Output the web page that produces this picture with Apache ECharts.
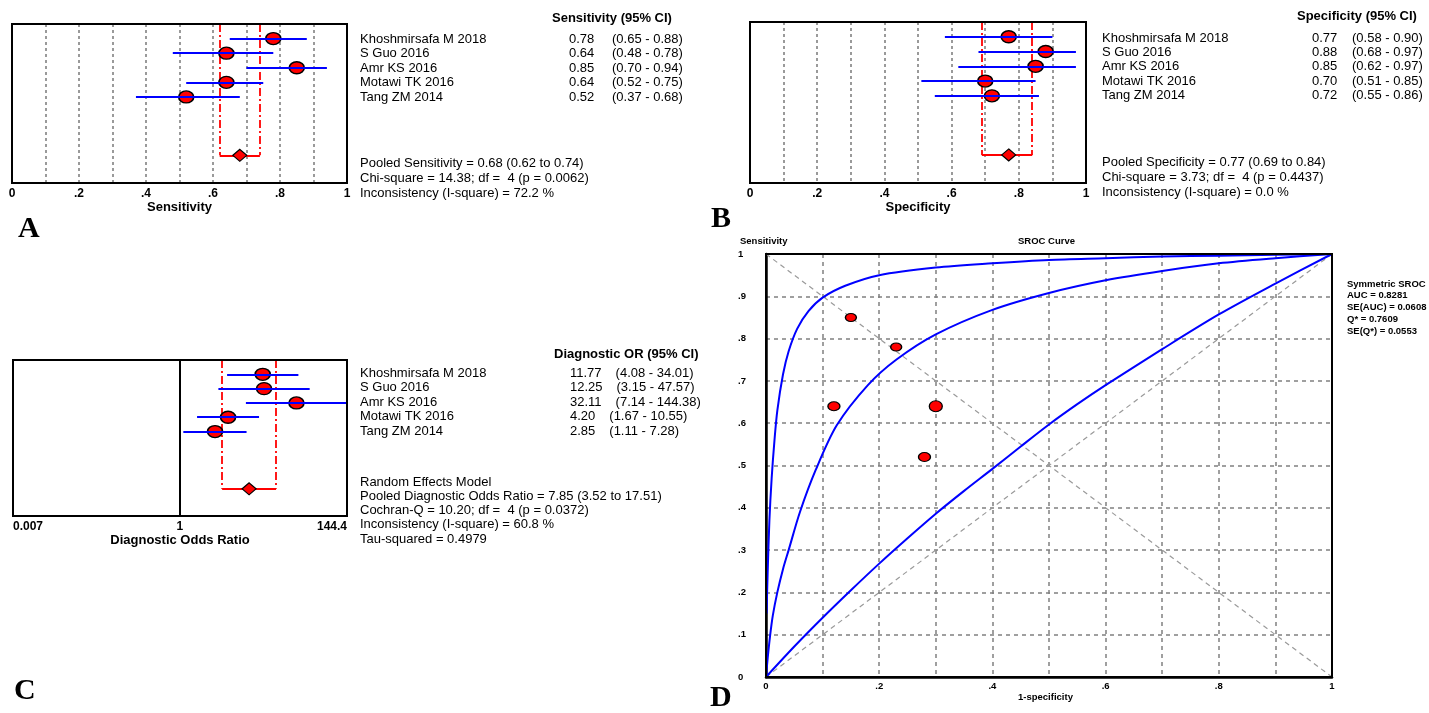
<!DOCTYPE html>
<html><head><meta charset="utf-8">
<script src="https://cdn.jsdelivr.net/npm/echarts@6/dist/echarts.min.js"></script>
<style>html,body{margin:0;padding:0;background:#fff}#c{width:1429px;height:713px}</style>
</head><body><div id="c"></div>
<script>
// ---------------- DATA ----------------
const studies = ['Khoshmirsafa M 2018', 'S Guo 2016', 'Amr KS 2016', 'Motawi TK 2016', 'Tang ZM 2014'];

const sens   = [0.78, 0.64, 0.85, 0.64, 0.52];
const sensLo = [0.65, 0.48, 0.70, 0.52, 0.37];
const sensHi = [0.88, 0.78, 0.94, 0.75, 0.68];
const pooledSens = [0.68, 0.62, 0.74]; // estimate, lo, hi

const spec   = [0.77, 0.88, 0.85, 0.70, 0.72];
const specLo = [0.58, 0.68, 0.62, 0.51, 0.55];
const specHi = [0.90, 0.97, 0.97, 0.85, 0.86];
const pooledSpec = [0.77, 0.69, 0.84];

const dor   = [11.77, 12.25, 32.11, 4.20, 2.85];
const dorLo = [4.08, 3.15, 7.14, 1.67, 1.11];
const dorHi = [34.01, 47.57, 144.38, 10.55, 7.28];
const pooledDor = [7.85, 3.52, 17.51];

const sensSummary = ['Pooled Sensitivity = 0.68 (0.62 to 0.74)', 'Chi-square = 14.38; df =  4 (p = 0.0062)', 'Inconsistency (I-square) = 72.2 %'];
const specSummary = ['Pooled Specificity = 0.77 (0.69 to 0.84)', 'Chi-square = 3.73; df =  4 (p = 0.4437)', 'Inconsistency (I-square) = 0.0 %'];
const dorSummary = ['Random Effects Model', 'Pooled Diagnostic Odds Ratio = 7.85 (3.52 to 17.51)', 'Cochran-Q = 10.20; df =  4 (p = 0.0372)', 'Inconsistency (I-square) = 60.8 %', 'Tau-squared = 0.4979'];
const srocLegend = ['Symmetric SROC', 'AUC = 0.8281', 'SE(AUC) = 0.0608', 'Q* = 0.7609', 'SE(Q*) = 0.0553'];

// SROC curves: [1-specificity, sensitivity]
const srocUpper = [[0.001,0.15],[0.003,0.25],[0.006,0.37],[0.01,0.47],[0.015,0.56],[0.02,0.63],[0.03,0.715],[0.04,0.77],[0.055,0.823],[0.075,0.865],[0.1,0.897],[0.14,0.925],[0.2,0.95],[0.3,0.968],[0.4,0.978],[0.5,0.986],[0.6,0.99],[0.7,0.994],[0.8,0.996],[0.9,0.998],[1,1]];
const srocMiddle = [[0,0],[0.003,0.045],[0.007,0.095],[0.012,0.145],[0.02,0.2],[0.03,0.255],[0.04,0.3],[0.06,0.39],[0.088,0.49],[0.125,0.595],[0.18,0.69],[0.23,0.75],[0.3,0.81],[0.4,0.868],[0.5,0.908],[0.6,0.938],[0.7,0.96],[0.8,0.978],[0.9,0.99],[1,1]];
const srocLower = [[0,0],[0.05,0.072],[0.1,0.14],[0.15,0.205],[0.2,0.268],[0.25,0.328],[0.3,0.386],[0.35,0.44],[0.4,0.492],[0.45,0.545],[0.5,0.597],[0.55,0.645],[0.6,0.69],[0.7,0.775],[0.8,0.857],[0.9,0.93],[1,1]];

// tick labels
const unitTicks = [0, 0.2, 0.4, 0.6, 0.8, 1];
const unitTickLabels = ['0', '.2', '.4', '.6', '.8', '1'];
const srocYTicks = [0, 0.1, 0.2, 0.3, 0.4, 0.5, 0.6, 0.7, 0.8, 0.9, 1];
const srocYTickLabels = ['0', '.1', '.2', '.3', '.4', '.5', '.6', '.7', '.8', '.9', '1'];
const dorTicks = [0.007, 1, 144.4];
const dorTickLabels = ['0.007', '1', '144.4'];

// ---------------- STYLE / LAYOUT ----------------
const FONT = '"Liberation Sans", Arial, sans-serif';
const SERIF = '"Liberation Serif", "Times New Roman", serif';
const RED = '#ff0000', BLUE = '#0000ff';
const srocMarkerSize = [[11, 8], [12, 9], [11, 8], [13, 11], [12, 9]];
const POOLED_ROW = 9;

function nearestLabel(v, ticks, labels, log) {
  let best = 0, bd = Infinity;
  ticks.forEach((t, i) => {
    const d = log ? Math.abs(Math.log(t) - Math.log(v)) : Math.abs(t - v);
    if (d < bd) { bd = d; best = i; }
  });
  return labels[best];
}

const forestGrids = [
  { left: 12, top: 24, width: 335, height: 159 },
  { left: 750, top: 22, width: 336, height: 161 },
  { left: 13, top: 360, width: 334, height: 156 }
];
const gridD = { left: 766, top: 254, width: 566, height: 423 };
const allGrids = forestGrids.concat([gridD]);

const grids = allGrids.map(g => Object.assign({ show: true, borderColor: '#000', borderWidth: 0, backgroundColor: '#fff' }, g));

const dashedGray = { show: true, lineStyle: { color: '#7a7a7a', width: 1.5, type: [3, 3] } };

function unitXAxis(gi, name, gap) {
  return {
    type: 'value', gridIndex: gi, min: 0, max: 1, interval: 0.1,
    axisLine: { show: false }, axisTick: { show: false },
    splitLine: dashedGray,
    axisLabel: { customValues: unitTicks, margin: 5, color: '#000', fontWeight: 'bold', fontSize: 12, fontFamily: FONT,
      formatter: v => nearestLabel(v, unitTicks, unitTickLabels, false) },
    name: name, nameLocation: 'middle', nameGap: gap,
    nameTextStyle: { color: '#000', fontWeight: 'bold', fontSize: 13, fontFamily: FONT }
  };
}

const xAxes = [
  unitXAxis(0, 'Sensitivity', 17),
  unitXAxis(1, 'Specificity', 16),
  {
    type: 'log', logBase: 10, gridIndex: 2, min: 0.007, max: 144.4,
    axisLine: { show: false }, axisTick: { show: false }, splitLine: { show: false },
    axisLabel: { customValues: dorTicks, margin: 5, color: '#000', fontWeight: 'bold', fontSize: 12, fontFamily: FONT,
      alignMinLabel: 'left', alignMaxLabel: 'right',
      formatter: v => nearestLabel(v, dorTicks, dorTickLabels, true) },
    name: 'Diagnostic Odds Ratio', nameLocation: 'middle', nameGap: 17,
    nameTextStyle: { color: '#000', fontWeight: 'bold', fontSize: 13, fontFamily: FONT }
  },
  {
    type: 'value', gridIndex: 3, min: 0, max: 1, interval: 0.1,
    axisLine: { show: true, lineStyle: { color: '#000', width: 2.5 } }, axisTick: { show: false },
    splitLine: { show: true, lineStyle: { color: '#808080', width: 1.5, type: [4, 4] } },
    axisLabel: { customValues: unitTicks, margin: 4, color: '#000', fontWeight: 'bold', fontSize: 9.5, fontFamily: FONT,
      formatter: v => nearestLabel(v, unitTicks, unitTickLabels, false) }
  }
];

const yAxes = [0, 1, 2].map(gi => ({ type: 'value', gridIndex: gi, min: 0, max: 10.9, inverse: true, show: false }))
  .concat([{
    type: 'value', gridIndex: 3, min: 0, max: 1, interval: 0.1,
    axisLine: { show: true, lineStyle: { color: '#000', width: 2.5 } }, axisTick: { show: false },
    splitLine: { show: true, lineStyle: { color: '#808080', width: 1.5, type: [4, 4] } },
    axisLabel: { customValues: srocYTicks, margin: 28, align: 'left', color: '#000', fontWeight: 'bold', fontSize: 9.5, fontFamily: FONT,
      formatter: v => nearestLabel(v, srocYTicks, srocYTickLabels, false) }
  }]);

function forestSeries(ai, est, lo, hi, pooled) {
  const s = [];
  s.push({
    type: 'lines', coordinateSystem: 'cartesian2d', xAxisIndex: ai, yAxisIndex: ai, z: 1, silent: true,
    lineStyle: { color: RED, width: 1.8, type: [8, 3, 2, 3], opacity: 1 },
    data: [{ coords: [[pooled[1], 0], [pooled[1], POOLED_ROW]] }, { coords: [[pooled[2], 0], [pooled[2], POOLED_ROW]] }]
  });
  s.push({
    type: 'lines', coordinateSystem: 'cartesian2d', xAxisIndex: ai, yAxisIndex: ai, z: 1, silent: true,
    lineStyle: { color: RED, width: 1.8, type: 'solid', opacity: 1 },
    data: [{ coords: [[pooled[1], POOLED_ROW], [pooled[2], POOLED_ROW]] }]
  });
  s.push({
    type: 'scatter', xAxisIndex: ai, yAxisIndex: ai, z: 2, symbol: 'circle', symbolSize: [15, 12],
    itemStyle: { color: RED, borderColor: '#000', borderWidth: 1.5, opacity: 1 },
    data: est.map((v, i) => [v, i + 1])
  });
  s.push({
    type: 'lines', coordinateSystem: 'cartesian2d', xAxisIndex: ai, yAxisIndex: ai, z: 3, silent: true,
    lineStyle: { color: BLUE, width: 2, opacity: 1 },
    data: lo.map((l, i) => ({ coords: [[l, i + 1], [hi[i], i + 1]] }))
  });
  s.push({
    type: 'scatter', xAxisIndex: ai, yAxisIndex: ai, z: 4, symbol: 'diamond', symbolSize: [14, 12],
    itemStyle: { color: RED, borderColor: '#000', borderWidth: 1.2, opacity: 1 },
    data: [[pooled[0], POOLED_ROW]]
  });
  return s;
}

let series = [];
series = series.concat(forestSeries(0, sens, sensLo, sensHi, pooledSens));
series = series.concat(forestSeries(1, spec, specLo, specHi, pooledSpec));
series.push({
  type: 'lines', coordinateSystem: 'cartesian2d', xAxisIndex: 2, yAxisIndex: 2, z: 1, silent: true,
  lineStyle: { color: '#000', width: 2, opacity: 1 },
  data: [{ coords: [[1, 0], [1, 10.9]] }]
});
series = series.concat(forestSeries(2, dor, dorLo, dorHi, pooledDor));

const diagStyle = { color: '#9a9a9a', width: 1.2, type: [5, 4] };
series.push({ type: 'line', xAxisIndex: 3, yAxisIndex: 3, showSymbol: false, silent: true, lineStyle: diagStyle, data: [[0, 0], [1, 1]], z: 1 });
series.push({ type: 'line', xAxisIndex: 3, yAxisIndex: 3, showSymbol: false, silent: true, lineStyle: diagStyle, data: [[0, 1], [1, 0]], z: 1 });
[srocUpper, srocMiddle, srocLower].forEach(c => {
  series.push({ type: 'line', xAxisIndex: 3, yAxisIndex: 3, showSymbol: false, silent: true, smooth: 0.3,
    lineStyle: { color: BLUE, width: 2 }, data: c, z: 2 });
});
series.push({
  type: 'scatter', xAxisIndex: 3, yAxisIndex: 3, z: 3, symbol: 'circle',
  itemStyle: { color: RED, borderColor: '#000', borderWidth: 1.2, opacity: 1 },
  data: sens.map((v, i) => ({ value: [1 - spec[i], v], symbolSize: srocMarkerSize[i] }))
});

// ---------------- TEXT ----------------
const mctx = document.createElement('canvas').getContext('2d');
function tw(s, font) { mctx.font = font; return mctx.measureText(s).width; }
const F13 = '13px ' + FONT, F13B = 'bold 13px ' + FONT, F9B = 'bold 9.5px ' + FONT;
const graphic = [];
function txt(s, x, y, font, align) {
  graphic.push({ type: 'text', x: x, y: y, silent: true, z: 100,
    style: { text: s, font: font, fill: '#000', align: align || 'left', verticalAlign: 'middle' } });
}
function table(L, est, lo, hi, header, summary, fixedCi) {
  txt(header, L.headerX, L.headerY, F13B);
  studies.forEach((n, i) => {
    const y = L.rowY0 + i * L.rowStep;
    const v = est[i].toFixed(2);
    txt(n, L.nameX, y, F13);
    txt(v, L.valX, y, F13);
    const ci = '(' + lo[i].toFixed(2) + ' - ' + hi[i].toFixed(2) + ')';
    const cx = fixedCi ? L.ciX : L.valX + tw(v, F13) + L.ciGap;
    txt(ci, cx, y, F13);
  });
  summary.forEach((s, i) => txt(s, L.nameX, L.sumY0 + i * L.sumStep, F13));
}
table({ nameX: 360, valX: 569, ciX: 612, headerX: 552, headerY: 18, rowY0: 39, rowStep: 14.6, sumY0: 163, sumStep: 15 },
  sens, sensLo, sensHi, 'Sensitivity (95% CI)', sensSummary, true);
table({ nameX: 1102, valX: 1312, ciX: 1352, headerX: 1297, headerY: 16, rowY0: 38, rowStep: 14.4, sumY0: 162, sumStep: 15 },
  spec, specLo, specHi, 'Specificity (95% CI)', specSummary, true);
table({ nameX: 360, valX: 570, ciGap: 14, headerX: 554, headerY: 354, rowY0: 373.5, rowStep: 14.4, sumY0: 482, sumStep: 14.3 },
  dor, dorLo, dorHi, 'Diagnostic OR (95% CI)', dorSummary, false);

txt('Sensitivity', 740, 241, F9B);
txt('SROC Curve', 1018, 241, F9B);
txt('1-specificity', 1018, 697, F9B);
srocLegend.forEach((s, i) => txt(s, 1347, 284 + i * 11.8, F9B));

const FL = 'bold 30px ' + SERIF;
txt('A', 18, 229, FL);
txt('B', 711, 219, FL);
txt('C', 14, 691, FL);
txt('D', 710, 698, FL);

allGrids.forEach(g => {
  graphic.push({ type: 'rect', silent: true, z: 90,
    shape: { x: g.left, y: g.top, width: g.width, height: g.height },
    style: { fill: null, stroke: '#000', lineWidth: 2 } });
});

const chart = echarts.init(document.getElementById('c'), null, { renderer: 'canvas' });
chart.setOption({
  animation: false,
  backgroundColor: '#fff',
  grid: grids,
  xAxis: xAxes,
  yAxis: yAxes,
  series: series,
  graphic: graphic
});
</script>
</body></html>
